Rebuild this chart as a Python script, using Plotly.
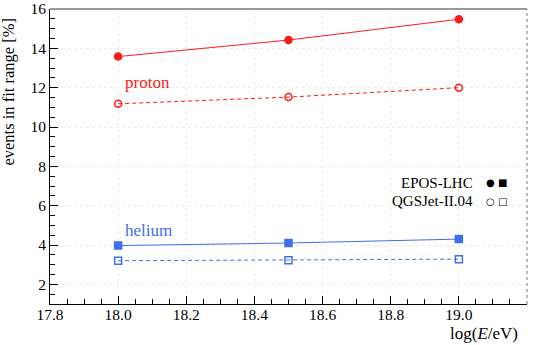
import plotly.graph_objects as go

# energies (log10 E/eV)
log_e = [18.0, 18.5, 19.0]

# fraction of events in fit range [%]
proton_epos = [13.58, 14.42, 15.48]
proton_qgsjet = [11.18, 11.52, 12.0]
helium_epos = [3.97, 4.1, 4.3]
helium_qgsjet = [3.2, 3.23, 3.28]

RED = "#ff1a1a"
BLUE = "#3f6ff0"
FONT = "Liberation Serif, Times New Roman, serif"

fig = go.Figure()


def add_series(y, color, marker, dash):
    fig.add_trace(
        go.Scatter(
            x=log_e,
            y=y,
            mode="lines+markers",
            line=dict(color=color, width=1, dash=dash),
            marker=dict(symbol=marker, size=7, color=color, line=dict(color=color, width=1.5)),
            showlegend=False,
        )
    )


add_series(proton_epos, RED, "circle", "solid")
add_series(proton_qgsjet, RED, "circle-open", "4px,3px")
add_series(helium_epos, BLUE, "square", "solid")
add_series(helium_qgsjet, BLUE, "square-open", "4px,3px")

fig.add_annotation(x=18.015, y=12.25, text="proton", showarrow=False, xanchor="left",
                   font=dict(color=RED, size=17, family=FONT))
fig.add_annotation(x=18.015, y=4.75, text="helium", showarrow=False, xanchor="left",
                   font=dict(color=BLUE, size=17, family=FONT))

# model legend
fig.add_annotation(x=0.89, y=0.411, xref="paper", yref="paper", text="EPOS-LHC", showarrow=False,
                   xanchor="right", font=dict(color="black", size=15, family=FONT))
fig.add_annotation(x=0.89, y=0.348, xref="paper", yref="paper", text="QGSJet-II.04", showarrow=False,
                   xanchor="right", font=dict(color="black", size=15, family=FONT))
fig.add_annotation(x=0.91, y=0.411, xref="paper", yref="paper", text="● ■", showarrow=False,
                   xanchor="left", font=dict(color="black", size=10, family="DejaVu Sans"))
fig.add_annotation(x=0.91, y=0.348, xref="paper", yref="paper", text="○ □", showarrow=False,
                   xanchor="left", font=dict(color="black", size=10, family="DejaVu Sans"))

# axis titles
fig.add_annotation(x=0.985, y=-0.1, xref="paper", yref="paper", text="log(<i>E</i>/eV)",
                   showarrow=False, xanchor="right", yanchor="middle",
                   font=dict(color="black", size=17, family=FONT))
fig.add_annotation(x=-0.086, y=0.72, xref="paper", yref="paper", text="events in fit range [%]",
                   showarrow=False, textangle=-90, xanchor="center", yanchor="middle",
                   font=dict(color="black", size=16.5, family=FONT))

# frame: grey top, dotted right
fig.add_shape(type="line", xref="paper", yref="paper", x0=0, x1=1, y0=1, y1=1,
              line=dict(color="#999999", width=2))
fig.add_shape(type="line", xref="paper", yref="paper", x0=1, x1=1, y0=0, y1=1,
              line=dict(color="#777777", width=1, dash="dot"))

fig.update_layout(
    width=540,
    height=345,
    plot_bgcolor="white",
    paper_bgcolor="white",
    font=dict(family=FONT, size=15.5, color="black"),
    margin=dict(l=50, r=13, t=9, b=41),
)
fig.update_xaxes(
    range=[17.8, 19.2],
    dtick=0.2,
    tickformat=".1f",
    tickfont=dict(family=FONT, size=15.5),
    ticklabelstandoff=-4,
    ticks="inside",
    ticklen=8,
    tickcolor="black",
    showline=True,
    linecolor="black",
    linewidth=1,
    showgrid=True,
    gridcolor="#ececec",
    griddash="dot",
    zeroline=False,
    minor=dict(dtick=0.05, ticks="inside", ticklen=5, tickcolor="black", showgrid=False),
    automargin=False,
)
fig.update_yaxes(
    range=[1, 16],
    tickvals=[2, 4, 6, 8, 10, 12, 14, 16],
    ticklabeloverflow="allow",
    tickfont=dict(family=FONT, size=15.5),
    ticks="inside",
    ticklen=8,
    tickcolor="black",
    showline=True,
    linecolor="black",
    linewidth=1,
    showgrid=True,
    gridcolor="#ececec",
    griddash="dot",
    zeroline=False,
    minor=dict(dtick=0.5, ticks="inside", ticklen=5, tickcolor="black", showgrid=False),
    automargin=False,
)

fig.write_html("out.html", config={"displayModeBar": False},
               post_script="document.body.style.margin='0';")
